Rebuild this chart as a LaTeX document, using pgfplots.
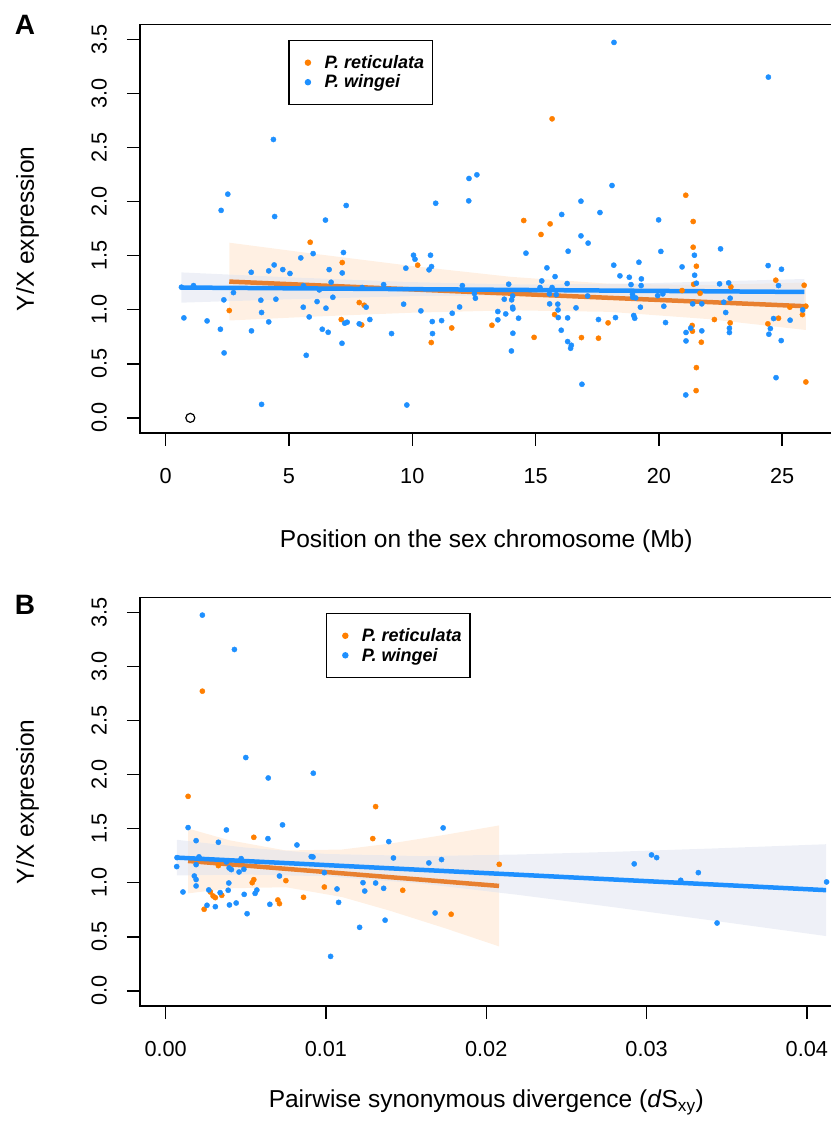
\documentclass[border=0pt]{standalone}
\usepackage{fontspec}
\setmainfont{Liberation Sans}
\usepackage{pgfplots}
\pgfplotsset{compat=1.18}
\definecolor{orpt}{RGB}{255,127,0}
\definecolor{blpt}{RGB}{30,144,255}
\definecolor{orln}{RGB}{232,128,48}
\definecolor{blln}{RGB}{30,144,255}
\definecolor{orband}{RGB}{255,226,200}
\definecolor{blband}{RGB}{222,226,240}
\pgfplotsset{rstyle/.style={
  scale only axis, width=692.5bp, height=408.5bp,
  axis line style={line width=1.6bp},
  tick style={line width=1.4bp, black},
  tick align=outside, major tick length=13bp,
  xtick pos=left, ytick pos=left,
  ymin=-0.14, ymax=3.64,
  ytick={0,0.5,1,1.5,2,2.5,3,3.5},
  yticklabels={0.0,0.5,1.0,1.5,2.0,2.5,3.0,3.5},
  tick label style={font=\fontsize{21.7bp}{26bp}\selectfont},
  xticklabel style={anchor=base, yshift=-37.5bp},
  yticklabel style={anchor=base, xshift=-20.3bp, rotate=90},
  label style={font=\fontsize{24.5bp}{29bp}\selectfont},
  ylabel={Y/X expression},
  ylabel style={at={(axis description cs:-0.1531,0.5)}, anchor=base},
  legend cell align=left,
  legend image code/.code={\path (-10bp,0bp) (6bp,0bp); \draw[##1] plot coordinates {(0bp,0bp)};},
  legend style={draw=black, line width=1.2bp, anchor=north west,
    font=\fontsize{18bp}{21bp}\selectfont\bfseries\itshape,
    inner xsep=8.4bp, inner ysep=15bp, row sep=5bp, column sep=10bp,
    nodes={inner sep=0pt}},
  orpts/.style={only marks, mark=*, mark size=2.6bp, color=orpt},
  blpts/.style={only marks, mark=*, mark size=2.6bp, color=blpt},
}}
\begin{document}
\begin{tikzpicture}
\path[use as bounding box] (0,0) rectangle (831bp,1121bp);
\node[font=\fontsize{28bp}{32bp}\selectfont\bfseries, anchor=base] at (25bp,1086bp) {A};
\node[font=\fontsize{28bp}{32bp}\selectfont\bfseries, anchor=base] at (25bp,506bp) {B};
% ---------------- Panel A ----------------
\begin{axis}[rstyle, at={(140bp,688bp)}, anchor=south west,
  xmin=-1.04, xmax=27.04,
  xtick={0,5,10,15,20,25}, xticklabels={0,5,10,15,20,25},
  xlabel={Position on the sex chromosome (Mb)},
  xlabel style={at={(axis description cs:0.5,-0.2792)}, anchor=base},
  legend style={at={(axis description cs:0.2142,0.9625)}}]
\addplot[draw=none, fill=orband, fill opacity=0.5, forget plot] coordinates {
(2.58,1.621) (6,1.519) (10,1.405) (14,1.305) (18,1.241) (22,1.230) (25.96,1.253)
(25.96,0.813) (22,0.914) (18,0.981) (14,0.995) (10,0.973) (6,0.937) (2.58,0.901)};
\addplot[draw=none, fill=blband, fill opacity=0.5, forget plot] coordinates {
(0.64,1.346) (5,1.301) (10,1.256) (14.4,1.234) (19,1.243) (25.9,1.285)
(25.9,1.045) (19,1.111) (14.4,1.134) (10,1.126) (5,1.097) (0.64,1.066)};
\addplot[orpts] coordinates {
(2.58,0.993) (5.86,1.625) (7.16,1.437) (7.12,0.91) (7.95,0.86) (7.85,1.067) (8.05,1.042)
(10.22,1.413) (10.77,0.697) (11.60,0.832) (14.52,1.826) (15.59,1.795) (15.22,1.697)
(15.67,2.767) (13.23,0.857) (14.94,0.745) (15.77,0.956) (16.86,0.743) (17.55,0.737)
(17.94,0.879) (21.09,2.06) (21.39,1.817) (21.39,1.579) (21.52,1.403) (24.74,1.274)
(25.89,1.227) (21.41,1.236) (22.92,1.212) (20.94,1.178) (21.67,1.153) (21.35,0.855)
(21.36,0.802) (21.72,0.70) (21.52,0.465) (21.51,0.252) (22.25,0.91) (22.89,0.879)
(24.42,0.87) (24.85,0.922) (25.31,1.024) (25.82,0.956) (25.96,1.033) (25.96,0.332)};
\addlegendentry{P. reticulata}
\addplot[blpts] coordinates {
(4.37,2.576) (2.52,2.07) (2.25,1.92) (4.42,1.863) (7.32,1.965) (6.48,1.83) (5.98,1.52)
(5.48,1.48) (7.21,1.53) (7.16,1.341) (6.63,1.372) (6.71,1.255) (4.40,1.415) (4.18,1.36)
(4.75,1.372) (5.04,1.336) (3.47,1.347) (0.64,1.209) (1.13,1.224) (2.75,1.159) (2.36,1.092)
(0.74,0.925) (1.68,0.897) (2.22,0.82) (2.37,0.601) (3.86,1.089) (3.89,0.975) (4.47,1.098)
(4.18,0.888) (3.48,0.805) (3.89,0.125) (5.59,1.222) (6.23,1.184) (6.14,1.076) (5.58,1.024)
(6.50,1.015) (6.78,1.116) (5.82,0.934) (6.35,0.82) (6.59,0.792) (5.70,0.579) (7.15,0.69)
(7.26,0.876) (7.36,0.885) (7.85,0.87) (8.13,1.024) (8.28,0.91) (7.97,1.206)
(12.30,2.215) (12.62,2.249) (12.29,2.008) (10.95,1.986) (16.06,1.882) (16.84,2.005)
(17.61,1.90) (16.84,1.684) (17.13,1.617) (14.61,1.524) (16.32,1.542) (10.05,1.505)
(10.11,1.468) (10.74,1.505) (10.78,1.40) (10.68,1.37) (9.74,1.385) (15.46,1.388)
(15.79,1.307) (15.25,1.267) (8.84,1.233) (12.03,1.224) (13.91,1.237) (15.18,1.206)
(15.67,1.206) (16.28,1.243) (12.52,1.15) (12.56,1.107) (14.07,1.128) (14.03,1.092)
(13.73,1.098) (15.56,1.147) (15.84,1.14) (17.11,1.128) (9.65,1.052) (10.35,0.99)
(11.92,1.026) (11.62,0.968) (10.81,0.891) (11.19,0.90) (10.82,0.78) (9.16,0.78)
(9.78,0.119) (13.47,0.984) (13.79,0.962) (13.47,0.907) (14.08,1.008) (14.07,1.024)
(14.31,0.922) (14.08,0.783) (14.02,0.619) (15.57,1.055) (15.90,1.052) (15.91,0.999)
(15.92,0.928) (16.30,0.925) (16.04,0.811) (16.30,0.706) (16.45,0.672) (16.42,0.644)
(16.64,1.018) (17.55,0.91) (16.88,0.311)
(18.18,3.474) (24.44,3.153) (18.10,2.15) (19.99,1.832) (20.08,1.54) (22.50,1.564)
(21.44,1.505) (20.94,1.397) (18.17,1.413) (19.19,1.44) (18.42,1.314) (18.80,1.301)
(19.29,1.286) (18.87,1.233) (19.28,1.224) (24.43,1.409) (24.97,1.375) (24.85,1.224)
(21.45,1.32) (21.52,1.246) (22.46,1.24) (22.83,1.249) (22.89,1.107) (22.63,1.07)
(22.71,0.975) (18.93,1.144) (18.94,1.116) (19.06,1.11) (19.95,1.131) (20.16,1.147)
(20.20,1.033) (19.25,1.024) (21.37,1.055) (21.74,1.055) (18.24,0.928) (18.98,0.947)
(19.02,0.922) (20.27,0.882) (21.10,0.79) (21.10,0.712) (21.29,0.83) (21.74,0.805)
(21.09,0.212) (22.86,0.83) (22.86,0.79) (24.65,0.919) (24.52,0.826) (24.46,0.774)
(24.96,0.715) (24.75,0.372) (25.32,0.904) (25.83,0.999)};
\addlegendentry{P. wingei}
\addplot[orln, line width=4.5bp, forget plot] coordinates {(2.58,1.261) (25.96,1.033)};
\addplot[blln, line width=4.5bp, forget plot] coordinates {(0.64,1.206) (25.9,1.165)};
\addplot[only marks, mark=o, mark size=4.5bp, black, line width=1.2bp, forget plot] coordinates {(1.0,0.0)};
\end{axis}
% ---------------- Panel B ----------------
\begin{axis}[rstyle, at={(140bp,115bp)}, anchor=south west,
  xmin=-0.0016, xmax=0.0416, scaled x ticks=false,
  xtick={0,0.01,0.02,0.03,0.04}, xticklabels={0.00,0.01,0.02,0.03,0.04},
  xlabel={Pairwise synonymous divergence (\textit{d}S\textsubscript{xy})},
  xlabel style={at={(axis description cs:0.5,-0.2496)}, anchor=base},
  legend style={at={(axis description cs:0.2682,0.9623)}}]
\addplot[draw=none, fill=orband, fill opacity=0.5, forget plot] coordinates {
(0.0014,1.502) (0.004,1.393) (0.0075,1.299) (0.011,1.308) (0.014,1.363) (0.0175,1.446) (0.0208,1.531)
(0.0208,0.411) (0.0175,0.576) (0.014,0.741) (0.011,0.868) (0.0075,0.959) (0.004,0.949) (0.0014,0.902)};
\addplot[draw=none, fill=blband, fill opacity=0.5, forget plot] coordinates {
(0.0007,1.398) (0.005,1.326) (0.010,1.267) (0.016,1.247) (0.022,1.262) (0.028,1.287) (0.034,1.317) (0.0412,1.357)
(0.0412,0.507) (0.034,0.653) (0.028,0.773) (0.022,0.888) (0.016,0.992) (0.010,1.061) (0.005,1.076) (0.0007,1.068)};
\addplot[orpts] coordinates {
(0.00229,2.773) (0.00140,1.80) (0.00329,1.159) (0.00279,0.915) (0.00296,0.878) (0.00310,0.863)
(0.00350,0.884) (0.00240,0.755) (0.00540,1.001) (0.00550,1.029) (0.00550,1.421) (0.00700,0.841)
(0.00710,0.807) (0.00750,1.02) (0.00860,0.866) (0.00990,0.961) (0.01310,1.705) (0.01292,1.409)
(0.02081,1.171) (0.01479,0.931) (0.01781,0.709)};
\addlegendentry{P. reticulata}
\addplot[blpts] coordinates {
(0.00229,3.477) (0.00429,3.159) (0.0050,2.159) (0.0064,1.97) (0.00921,2.014) (0.0014,1.511)
(0.00729,1.536) (0.0019,1.39) (0.00329,1.375) (0.00379,1.489) (0.00638,1.409) (0.00819,1.35)
(0.00071,1.233) (0.00069,1.15) (0.00208,1.24) (0.0019,1.168) (0.00379,1.193) (0.00471,1.224)
(0.00396,1.137) (0.0041,1.122) (0.00458,1.10) (0.00488,1.125) (0.00908,1.242) (0.00919,1.239)
(0.00179,1.063) (0.0019,1.03) (0.0019,0.971) (0.00108,0.915) (0.00269,0.934) (0.0034,0.909)
(0.0039,0.931) (0.00394,0.998) (0.00258,0.792) (0.0031,0.779) (0.00398,0.795) (0.0044,0.813)
(0.0049,0.893) (0.00508,0.714) (0.00558,0.902) (0.00569,0.933) (0.0065,0.801) (0.0071,1.063)
(0.0099,1.094) (0.01069,0.943) (0.01079,0.819) (0.01029,0.319) (0.0121,0.588) (0.01231,1.001)
(0.01242,0.924) (0.0131,0.998) (0.01731,1.508) (0.01392,1.381) (0.01421,1.23) (0.01642,1.184)
(0.01721,1.215) (0.0136,0.949) (0.01681,0.721) (0.01369,0.654) (0.02923,1.175) (0.03031,1.258)
(0.03063,1.233) (0.03323,1.094) (0.03213,1.023) (0.0344,0.628) (0.04123,1.008)};
\addlegendentry{P. wingei}
\addplot[orln, line width=4.5bp, forget plot] coordinates {(0.0014,1.202) (0.0208,0.971)};
\addplot[blln, line width=4.5bp, forget plot] coordinates {(0.0007,1.233) (0.0412,0.932)};
\end{axis}
\end{tikzpicture}
\end{document}
